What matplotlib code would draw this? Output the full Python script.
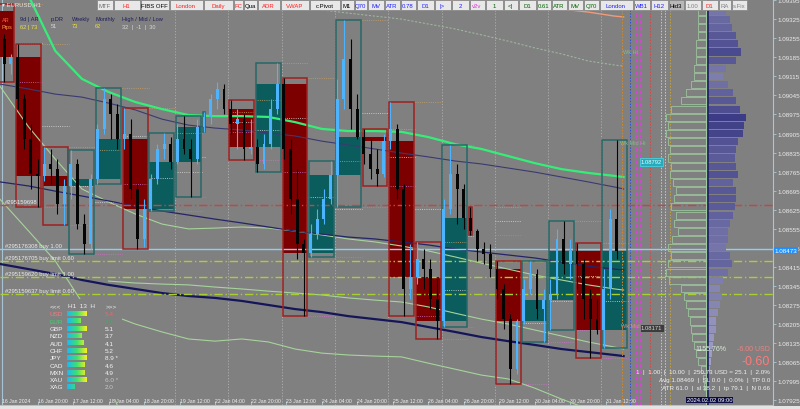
import numpy as np
import matplotlib.pyplot as plt
from matplotlib.patches import Rectangle
from matplotlib.colors import LinearSegmentedColormap

plt.rcParams['font.family'] = ['Liberation Sans', 'DejaVu Sans']

# EURUSD H1, grouped by 3 hours (bar 0 = 16 Jan 04:00)
first_bar = -6
first_open = 1.09356
highs = np.array([
    1.09382, 1.09345, 1.09271, 1.09198,
    1.09234, 1.09050, 1.08940, 1.08811,
    1.08855, 1.08848, 1.08811, 1.08738,
    1.08844, 1.08811, 1.08609, 1.08756,
    1.08940, 1.09072, 1.09050, 1.09014,
    1.08999, 1.08958, 1.08719, 1.08664,
    1.08756, 1.08866, 1.08907, 1.08892,
    1.08940, 1.08969, 1.08885, 1.08958,
    1.08984,
    1.09050, 1.09095, 1.09087,
    1.09028, 1.08995, 1.08977, 1.08958,
    1.08885, 1.08903, 1.09032, 1.09164,
    1.09109, 1.08885, 1.08774, 1.08517,
    1.08572, 1.08627, 1.08701, 1.08804,
    1.09106, 1.09323, 1.09253, 1.09050,
    1.08922, 1.08885, 1.08848, 1.08903,
    1.09021, 1.08940, 1.08719, 1.08498,
    1.08506, 1.08480, 1.08443, 1.08370,
    1.08664, 1.08863, 1.08793, 1.08719,
    1.08635,
    1.08554, 1.08506, 1.08498,
    1.08436, 1.08351, 1.08241, 1.08222,
    1.08370, 1.08436, 1.08406, 1.08333,
    1.08370, 1.08554, 1.08583, 1.08517,
    1.08502, 1.08443, 1.08333, 1.08296,
    1.08406, 1.08627, 1.08881])
lows = np.array([
    1.09308, 1.09234, 1.09095, 1.09124,
    1.08995, 1.08848, 1.08701, 1.08635,
    1.08730, 1.08719, 1.08609, 1.08568,
    1.08664, 1.08554, 1.08462, 1.08480,
    1.08719, 1.08903, 1.08885, 1.08848,
    1.08848, 1.08664, 1.08480, 1.08487,
    1.08620, 1.08719, 1.08811, 1.08774,
    1.08793, 1.08830, 1.08671, 1.08793,
    1.08911,
    1.08940, 1.08995, 1.08977,
    1.08903, 1.08848, 1.08808, 1.08830,
    1.08763, 1.08774, 1.08848, 1.08977,
    1.08811, 1.08609, 1.08443, 1.08233,
    1.08451, 1.08517, 1.08572, 1.08646,
    1.08635, 1.08995, 1.08922, 1.08885,
    1.08793, 1.08738, 1.08712, 1.08745,
    1.08848, 1.08664, 1.08233, 1.08296,
    1.08351, 1.08333, 1.08259, 1.08149,
    1.08193, 1.08609, 1.08572, 1.08554,
    1.08532,
    1.08436, 1.08425, 1.08377,
    1.08296, 1.08186, 1.07983, 1.08020,
    1.08204, 1.08314, 1.08222, 1.08138,
    1.08182, 1.08296, 1.08388, 1.08370,
    1.08333, 1.08222, 1.08079, 1.08167,
    1.08116, 1.08296, 1.08443])
closes = np.array([
    1.09326, 1.09253, 1.09161, 1.09187,
    1.09032, 1.08885, 1.08756, 1.08749,
    1.08793, 1.08774, 1.08646, 1.08712,
    1.08793, 1.08572, 1.08498, 1.08738,
    1.08922, 1.09032, 1.08977, 1.08885,
    1.08903, 1.08701, 1.08517, 1.08627,
    1.08738, 1.08848, 1.08866, 1.08800,
    1.08885, 1.08848, 1.08811, 1.08929,
    1.08966,
    1.09032, 1.09069, 1.08995,
    1.08940, 1.08958, 1.08848, 1.08855,
    1.08793, 1.08866, 1.08995, 1.09087,
    1.08848, 1.08664, 1.08498, 1.08465,
    1.08535, 1.08590, 1.08664, 1.08752,
    1.09032, 1.09179, 1.08995, 1.08892,
    1.08830, 1.08774, 1.08756, 1.08877,
    1.08922, 1.08701, 1.08333, 1.08377,
    1.08443, 1.08406, 1.08296, 1.08215,
    1.08627, 1.08756, 1.08701, 1.08594,
    1.08546,
    1.08480, 1.08462, 1.08406,
    1.08333, 1.08222, 1.08038, 1.08215,
    1.08333, 1.08388, 1.08259, 1.08292,
    1.08314, 1.08517, 1.08425, 1.08473,
    1.08425, 1.08296, 1.08222, 1.08182,
    1.08333, 1.08590, 1.08473])

# session boxes (start bar, length in bars)
sess_start = [-6, 6, 18, 30, 42, 54, 66, 78, 90, 102, 114, 126, 138, 150, 162,
              174, 186, 198, 210, 222, 234, 246, 258, 270]
sess_len = [12, 12, 12, 12, 12, 12, 12, 12, 2, 12, 12, 12, 12, 12, 12,
            12, 12, 12, 2, 12, 12, 12, 12, 12]

date_labels = ['16 Jan 2024', '16 Jan 20:00', '17 Jan 12:00', '18 Jan 04:00',
               '18 Jan 20:00', '19 Jan 12:00', '22 Jan 04:00', '22 Jan 20:00',
               '23 Jan 12:00', '24 Jan 04:00', '24 Jan 20:00', '25 Jan 12:00',
               '26 Jan 04:00', '26 Jan 20:00', '29 Jan 12:00', '30 Jan 04:00',
               '30 Jan 20:00', '31 Jan 12:00']

# moving averages / envelopes sampled along the chart
ma_bars = [-1, 12, 24, 36, 48, 60, 72, 84, 96, 108, 120, 132, 144, 156, 168,
           180, 192, 204, 216, 228, 240, 252, 264, 276, 280]
nan = np.nan
ma_green = [1.09694, 1.09411, 1.09209, 1.09106, 1.09058, 1.09021, 1.08995, 1.08973,
            1.08969, 1.08969, 1.08966, 1.08947, 1.08922, 1.08914, 1.08914, 1.08911,
            1.08892, 1.08866, 1.08848, 1.08822, 1.08796, 1.08774, 1.08760, 1.08749, 1.08745]
ma_slow = [1.09087, 1.09069, 1.09050, 1.09039, 1.09017, 1.08992, 1.08958, 1.08936,
           1.08925, 1.08918, 1.08907, 1.08896, 1.08877, 1.08863, 1.08848, 1.08833,
           1.08819, 1.08804, 1.08793, 1.08778, 1.08763, 1.08745, 1.08727, 1.08708, 1.08701]
ma_mid = [1.08727, 1.08712, 1.08693, 1.08675, 1.08657, 1.08638, 1.08620, 1.08605,
          1.08590, 1.08576, 1.08561, 1.08546, 1.08535, 1.08524, 1.08517, 1.08506,
          1.08495, 1.08480, 1.08469, 1.08458, 1.08447, 1.08432, 1.08417, 1.08406, 1.08403]
ma_long = [1.08425, 1.08406, 1.08388, 1.08366, 1.08348, 1.08333, 1.08318, 1.08307,
           1.08300, 1.08289, 1.08274, 1.08259, 1.08248, 1.08233, 1.08222, 1.08211,
           1.08193, 1.08175, 1.08156, 1.08141, 1.08127, 1.08112, 1.08101, 1.08090, 1.08086]
env_a = [1.08664, 1.08546, 1.08436, 1.08285, 1.07983, 1.07744] + [nan] * 19
env_b = [1.09080, 1.08929, 1.08811, 1.08701, 1.08653, 1.08609, 1.08572, 1.08554,
         1.08557, 1.08561, 1.08557, 1.08546, 1.08532, 1.08517, 1.08506, 1.08491,
         1.08473, 1.08451, 1.08428, 1.08406, 1.08384, 1.08366, 1.08348, 1.08333, 1.08329]
env_c = [nan] * 4 + [1.08362, 1.08355, 1.08351, 1.08348, 1.08340, 1.08333, 1.08325,
                     1.08318, 1.08311, 1.08300, 1.08292, 1.08285, 1.08267, 1.08244,
                     1.08222, 1.08204, 1.08182, 1.08160, 1.08138, 1.08119, 1.08112]
env_d = [nan] * 4 + [1.08241, 1.08204, 1.08175, 1.08149, 1.08141, 1.08149, 1.08138,
                     1.08112, 1.08097, 1.08090, 1.08086, 1.08083, 1.08060, 1.08038,
                     1.08016, 1.08002, 1.07968, 1.07928, 1.07891] + [nan] * 2
env_top = [nan] * 10 + [1.09382, 1.09371, 1.09360, 1.09348, 1.09337, 1.09326, 1.09308,
                        1.09290, 1.09268, 1.09245, 1.09220, 1.09198, 1.09172, 1.09157, 1.09153]
ma_salmon = [nan] * 16 + [1.09400, 1.09393, 1.09389, 1.09382, 1.09374, 1.09363,
                          1.09352, 1.09337, 1.09334]

# open orders
order_price = [1.08642, 1.08480, 1.08436, 1.08377, 1.08314]
order_text = ['#295159698', '#295176308 buy 1.00', '#295176705 buy limit 0.60',
              '#295159620 buy limit 1.00', '#295159637 buy limit 0.60']
order_color = ['#d04040', '#8ecdf5', '#a8d030', '#a8d030', '#a8d030']

# volume profile, 3 pip levels from the top
prof_purple = [20, 18, 22, 24, 28, 30, 33, 28, 18, 15, 20, 25, 28, 32, 38, 36, 35, 30,
               28, 27, 28, 30, 25, 28, 28, 27, 25, 22, 20, 20, 18, 22, 24, 20, 15, 12,
               14, 12, 10, 8, 8, 6, 5, 4, 3, 2, 0, 0]
prof_green = [6, 8, 8, 8, 8, 10, 10, 10, 12, 12, 15, 20, 25, 35, 40, 38, 40, 38, 36, 38,
              35, 36, 33, 30, 32, 35, 30, 32, 28, 34, 38, 35, 38, 40, 37, 25, 22, 20,
              18, 16, 15, 14, 12, 10, 8, 5, 3, 2]

# currency strength panel
currencies = ['USD', 'EUR', 'GBP', 'NZD', 'AUD', 'CHF', 'JPY', 'CAD', 'MXN', 'XAU', 'XAG']
strength = ['5.4', '3.3', '5.1', '3.7', '4.1', '5.2', '8.9 *', '4.6', '4.9', '6.0 *', '2.0']
strength_bar = [20, 14, 20, 15, 17, 20, 20, 18, 18, 20, 8]

BG = '#808080'
PX = 2.22            # pixels per H1 bar
fig = plt.figure(figsize=(8, 4.1), dpi=100, facecolor=BG)
ax = fig.add_axes([0, 4 / 410, 773 / 800, 406 / 410], facecolor=BG)
ax.set_xlim(-0.9, 347.3)
ax.set_ylim(1.07906, 1.09400)

bars = first_bar + 3 * np.arange(len(closes))
opens = np.r_[first_open, closes[:-1]]

# session boxes + previous session levels
prev = None
for s, n in zip(sess_start, sess_len):
    m = (bars >= s) & (bars < s + n)
    o, c = opens[m][0], closes[m][-1]
    h, l = highs[m].max(), lows[m].min()
    bull = c > o
    ax.add_patch(Rectangle((s + 0.4, min(o, c)), n - 0.8, abs(c - o),
                           fc='#0b5d5d' if bull else '#7d0000', ec='none', zorder=1))
    ax.add_patch(Rectangle((s + 0.4, l), n - 0.8, h - l, fc='none',
                           ec='#276868' if bull else '#a02020', lw=1.1, zorder=3))
    if prev is not None:
        ph, pl = prev
        ax.hlines([ph, pl, (ph + pl) / 2], s, s + n, colors=['#c8a064', '#d070c8', '#dcdcdc'],
                  lw=0.6, linestyles=':', zorder=2)
    prev = (h, l)

# candles
mid = bars + 1
up = closes >= opens
col = np.where(up, '#4cb4ff', '#050505')
ax.vlines(mid, lows, highs, colors=col, lw=0.8, zorder=4)
ax.bar(mid, np.abs(closes - opens), bottom=np.minimum(opens, closes), width=1.3,
       color=col, linewidth=0, zorder=4)

# day separators at 10:00
for b in np.arange(78, 271, 24):
    ax.axvline(b, color='#b0b0b0', lw=0.6, ls=(0, (1.5, 2)), zorder=0.5)
ax.axvline(0, color='#a8c4d4', lw=0.8, zorder=0.6)

# averages
ax.plot(ma_bars, env_top, color='#9cb49c', lw=0.8, ls=(0, (2, 1.5)), zorder=2)
ax.plot(ma_bars, ma_salmon, color='#f09a7a', lw=1.0, zorder=2)
for env in (env_a, env_b, env_c, env_d):
    ax.plot(ma_bars, env, color='#a6d49a', lw=0.8, zorder=2)
ax.plot(ma_bars, ma_slow, color='#3a3a72', lw=0.8, zorder=2)
ax.plot(ma_bars, ma_mid, color='#242468', lw=0.9, zorder=2)
ax.plot(ma_bars, ma_long, color='#15155a', lw=1.6, zorder=2)
ax.plot(ma_bars, ma_green, color='#35ee78', lw=1.6, zorder=2)

# order lines
for p, t, c in zip(order_price, order_text, order_color):
    ls = '-' if 'buy 1' in t else (0, (6, 2, 1, 2))
    ax.axhline(p, color=c, lw=1.0, ls=ls, zorder=2.5)
    ax.text(1.5, p + 0.00004, t, fontsize=4.2, color='#ececec', va='bottom', zorder=6)

# markers right of the last candle
marker_bars = [279.3, 282.9, 285.6, 287.4, 291.9, 295.0, 296.8, 298.6, 300.9]
marker_cols = ['#d08a30', '#3050d0', '#e040e0', '#e040e0', '#d04848', '#4a88ff',
               '#c8c8c8', '#c8c8c8', '#c0a040']
for b, c in zip(marker_bars, marker_cols):
    ax.axvline(b, color=c, lw=0.7, ls=(0, (1.5, 1.5)), zorder=2)

# volume profile
prof_x = 317.5
levels = 1.09385 - 0.0003 * np.arange(len(prof_purple))
pp = np.array(prof_purple)
cm = LinearSegmentedColormap.from_list('vp', ['#a8a8c8', '#3c3c86'])
ax.barh(levels, pp / PX, left=prof_x + 0.4, height=0.00026,
        color=cm(pp / pp.max()), linewidth=0, zorder=3)
ax.barh(levels, -np.array(prof_green) / PX, left=prof_x - 0.4, height=0.00026,
        fc='none', ec='#9cc49c', lw=0.6, zorder=3)
ax.axvline(prof_x - 0.6, color='#a0c8a0', lw=0.8, zorder=3)
ax.axvline(prof_x + 0.3, color='#202060', lw=1.2, zorder=3)

# axes styling
for sp in ('top', 'left'):
    ax.spines[sp].set_visible(False)
for sp in ('right', 'bottom'):
    ax.spines[sp].set_color('#a8c8d0')
    ax.spines[sp].set_linewidth(0.8)
ax.yaxis.tick_right()
yt = 1.09395 - 0.0007 * np.arange(22)
ax.set_yticks(yt)
ax.set_yticklabels([f'{v:.5f}' for v in yt], fontsize=4.5, color='#ececec')
ax.tick_params(axis='y', length=2, width=0.6, color='#a8c8d0', pad=1.5)
ax.set_xticks(16 * np.arange(len(date_labels)))
ax.set_xticklabels(date_labels, fontsize=3.7, color='#f0f0f0', ha='left')
ax.tick_params(axis='x', direction='in', length=3, width=0.6, color='#a8c8d0', pad=-5)
for lab in ax.get_xticklabels():
    lab.set_x(lab.get_position()[0])

ax.text(1.002, closes[-1], f'{closes[-1]:.5f}', transform=ax.get_yaxis_transform(),
        fontsize=4.5, color='white', va='center', ha='left', zorder=8, clip_on=False,
        bbox=dict(boxstyle='square,pad=0.15', fc='#1e90ff', ec='none'))

# overlay in pixel coordinates
ov = fig.add_axes([0, 0, 1, 1])
ov.set_xlim(0, 800)
ov.set_ylim(410, 0)
ov.axis('off')
ov.add_patch(Rectangle((0, 407), 800, 3, fc='#e4e4e4', ec='none'))

btn_labels = ['MTF', 'H1', 'FIBS OFF', 'London', 'Daily', 'FC', 'Qua', 'ADR', 'VWAP',
              'c.Pivot', 'M1', 'Q70', 'MV', 'ATR', '0.78', 'D1', '|>', '2', 'v2v', '1',
              '<|', 'D1', '0.61', 'ATR', 'MV', 'Q70', 'London', 'WB1', 'H12', 'Hid3',
              '1.00', 'D1', 'RA', 's.Fix']
btn_colors = ['#707070', '#ff2020', '#000000', '#ff2020', '#ff2020', '#ff2020', '#000000',
              '#ff2020', '#ff2020', '#000000', '#000000', '#2020ff', '#2020ff', '#2020ff',
              '#2020ff', '#2020ff', '#2020ff', '#2020ff', '#e030e0', '#006000', '#006000',
              '#006000', '#006000', '#006000', '#006000', '#006000', '#2020ff', '#2020ff',
              '#2020ff', '#000000', '#808080', '#ff2020', '#808080', '#808080']
btn_x = [96, 113, 140, 169, 203, 233, 243, 257, 280, 309, 340, 354, 367, 384, 400, 416,
         434, 451, 469, 485, 503, 518, 536, 551, 567, 583, 599, 633, 650, 668, 684, 701,
         718, 731, 747]
for i, (t, c) in enumerate(zip(btn_labels, btn_colors)):
    x0, x1 = btn_x[i], btn_x[i + 1]
    fc = '#b8b8b8' if t == 'Hid3' else '#e8e8e8'
    ov.add_patch(Rectangle((x0 + 0.5, 1), x1 - x0 - 1, 10, fc=fc, ec='#8a8a8a', lw=0.6))
    ov.text((x0 + x1) / 2, 6.3, t, fontsize=4.3, color=c, ha='center', va='center')

ov.text(2, 4.5, '▾ EURUSD,H1', fontsize=4.2, color='#e4e4e4', va='center')
ov.add_patch(Rectangle((0, 13), 13, 20, fc='#7a0000', ec='none'))
ov.text(2, 20, 'AR', fontsize=4, color='#ff5a3a', va='center')
ov.text(1, 27, 'Pips', fontsize=4, color='#ffa040', va='center')
head = [(20, '9d | AR', '62 | 73'), (51, 'p.DR', '51'), (72, 'Weekly', '73'),
        (95, 'Monthly', '62'), (122, 'High / Mid / Low', '32  |  -1  |  30')]
for x, a, b in head:
    ov.text(x, 20, a, fontsize=4.1, color='#1c1c5c', va='center')
    vc = '#d8d8d8' if x in (51, 122) else '#f0e040'
    ov.text(x, 27, b, fontsize=4.1, color=vc, va='center')

# currency strength panel
ov.add_patch(Rectangle((45, 300), 77, 100, fc=BG, ec='none', zorder=5))
ov.text(50, 307, '<<<', fontsize=4.6, color='#f0f0f0', va='center', zorder=6)
ov.text(68, 307, 'H1  13  H', fontsize=4.6, color='#f0f0f0', va='center', zorder=6)
ov.text(106, 307, '>>>', fontsize=4.6, color='#f0f0f0', va='center', zorder=6)
scm = LinearSegmentedColormap.from_list('st', ['#18b8f8', '#40e070', '#f8f020'])
for i, (cur, val, ln) in enumerate(zip(currencies, strength, strength_bar)):
    y = 315 + 7.3 * i
    lc = {'USD': '#ff7878', 'EUR': '#40d070'}.get(cur, '#f4f4f4')
    vc = {'USD': '#ff6060', 'EUR': '#38b060', 'XAU': '#c8c8c8', 'XAG': '#c8c8c8'}.get(cur, '#f4f4f4')
    ov.text(50, y, cur, fontsize=4.6, color=lc, va='center', zorder=6)
    ov.imshow(np.linspace(0, ln / 20, 40)[None, :], extent=(67, 67 + ln, y + 2.2, y - 2.2),
              cmap=scm, vmin=0, vmax=1, aspect='auto', zorder=6)
    ov.text(105, y, val, fontsize=4.6, color=vc, va='center', zorder=6)
ov.set_xlim(0, 800)
ov.set_ylim(410, 0)

# labels on the right
ov.text(623, 53, 'Wk Hi', fontsize=4, color='#80c080', va='center')
ov.text(620, 144, 'Wk Mid Hi', fontsize=4, color='#80c080', va='center')
ov.text(621, 327, 'Wk Mid', fontsize=4, color='#e08888', va='center')
ov.text(641, 163, '1.08792', fontsize=4.2, color='#e8ffff', va='center',
        bbox=dict(boxstyle='square,pad=0.2', fc='#28aabb', ec='#40e0f0', lw=0.5))
ov.text(641, 329, '1.08171', fontsize=4.2, color='#d8d8d8', va='center',
        bbox=dict(boxstyle='square,pad=0.2', fc='#3c3c3c', ec='#909090', lw=0.5))

ov.text(711, 350, '1155.76%', fontsize=5, color='#d8ecd8', ha='center', va='center')
ov.text(770, 350, '-6.00 USD', fontsize=5, color='#f08080', ha='right', va='center')
ov.text(770, 362, '-0.60', fontsize=9, color='#ff7a7a', ha='right', va='center')
ov.text(770, 373, '1  |  1.00  |  10.00  |  250.73 USD = 25.1  |  2.0%', fontsize=4.5,
        color='#f0f0f0', ha='right', va='center')
ov.text(770, 381, 'Avg 1.08469  |  SL 0.0  |  0.0%  |  TP 0.0', fontsize=4.5,
        color='#f0f0f0', ha='right', va='center')
ov.text(770, 389, 'ATR 61.0  |  sl 38.2  |  tp 79.1  |  N 0.66', fontsize=4.5,
        color='#f0f0f0', ha='right', va='center')
ov.text(687, 401, '2024.02.02 09:00', fontsize=4.2, color='white', va='center',
        bbox=dict(boxstyle='square,pad=0.15', fc='#0c0c44', ec='none'))

fig.savefig('out.png', dpi=100, facecolor=BG)
